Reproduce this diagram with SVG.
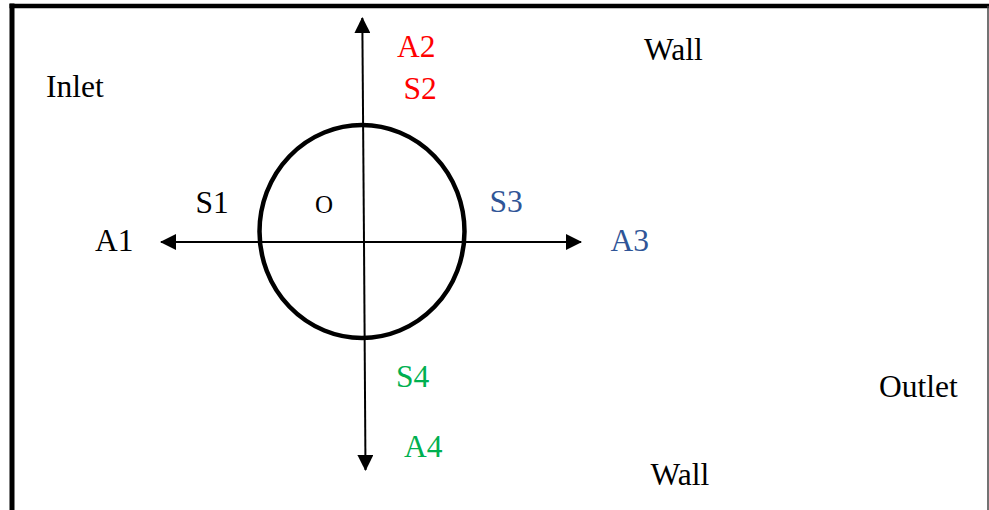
<svg xmlns="http://www.w3.org/2000/svg" width="989" height="510" viewBox="0 0 989 510">
<style>
text{font-family:"Liberation Serif","Times New Roman",serif;font-size:31.5px;fill:#000}
.red{fill:#FF0000}.blue{fill:#2F5597}.green{fill:#00B050}
.axis{stroke:#000;stroke-width:2;fill:none}
</style>
<defs>
<marker id="ah" viewBox="0 0 16 16" refX="15" refY="8" markerWidth="16" markerHeight="16" markerUnits="userSpaceOnUse" orient="auto">
<path d="M0,0 L16,8 L0,16 Z" fill="#000"/>
</marker>
</defs>
<rect width="989" height="510" fill="#fff"/>
<g id="frame">
<line x1="12" y1="3.5" x2="12" y2="510" stroke="#000" stroke-width="5"/>
<line x1="9.5" y1="6" x2="989" y2="6" stroke="#000" stroke-width="4.5"/>
<line x1="988" y1="6" x2="988" y2="510" stroke="#444" stroke-width="1.5"/>
</g>
<g id="connectors">
<line class="axis" x1="364" y1="242" x2="362.3" y2="18" marker-end="url(#ah)"/>
<line class="axis" x1="364" y1="242" x2="365.5" y2="470" marker-end="url(#ah)"/>
<line class="axis" x1="364" y1="242" x2="161" y2="242" marker-end="url(#ah)"/>
<line class="axis" x1="364" y1="242" x2="581" y2="242" marker-end="url(#ah)"/>
</g>
<g id="cylinder">
<ellipse cx="362" cy="231.5" rx="102.5" ry="106.5" fill="none" stroke="#000" stroke-width="4.5"/>
<text x="315" y="213" style="font-size:25px">O</text>
</g>
<g id="inlet"><text x="46" y="96.5">Inlet</text></g>
<g id="wall-top"><text x="644" y="60">Wall</text></g>
<g id="wall-bottom"><text x="650.5" y="484.5">Wall</text></g>
<g id="outlet"><text x="879" y="396.5">Outlet</text></g>
<g id="a1"><text x="95" y="250.5">A1</text></g>
<g id="s1"><text x="195.5" y="212.5">S1</text></g>
<g id="a2"><text class="red" x="397" y="57">A2</text></g>
<g id="s2"><text class="red" x="403.5" y="98.5">S2</text></g>
<g id="s3"><text class="blue" x="489.5" y="211.5">S3</text></g>
<g id="a3"><text class="blue" x="610.5" y="250.5">A3</text></g>
<g id="s4"><text class="green" x="396" y="387">S4</text></g>
<g id="a4"><text class="green" x="404" y="456.5">A4</text></g>
</svg>
